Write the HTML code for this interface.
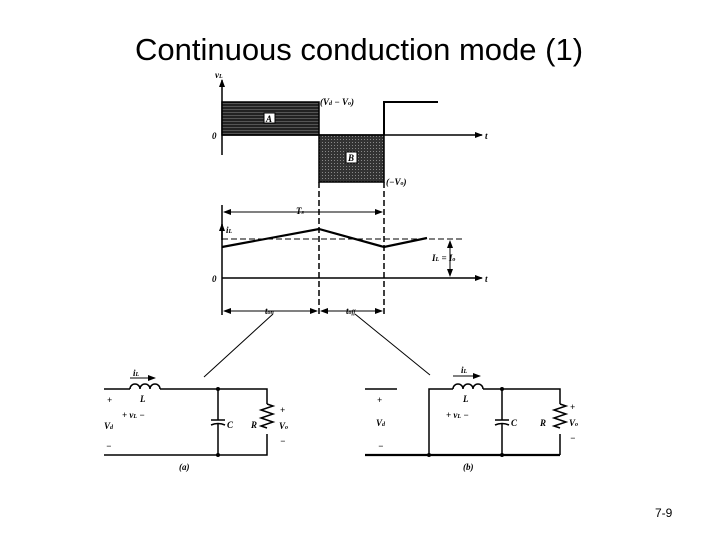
<!DOCTYPE html>
<html><head><style>
body{margin:0;width:720px;height:540px;background:#fff;overflow:hidden}
svg{display:block}
.t{font-family:"Liberation Serif",serif;font-style:italic;font-weight:bold;font-size:9px}
</style></head><body>
<svg width="720" height="540" viewBox="0 0 720 540">
<defs>
<marker id="a" markerWidth="8" markerHeight="6" refX="7" refY="3" orient="auto" markerUnits="userSpaceOnUse"><path d="M0,0 L8,3 L0,6 z" fill="#000"/></marker>
<marker id="b" markerWidth="8" markerHeight="6" refX="1" refY="3" orient="auto" markerUnits="userSpaceOnUse"><path d="M8,0 L0,3 L8,6 z" fill="#000"/></marker>
<pattern id="h" width="4" height="3" patternUnits="userSpaceOnUse"><rect width="4" height="3" fill="#222"/><rect y="1" width="4" height="1" fill="#555"/></pattern>
<pattern id="d" width="3" height="3" patternUnits="userSpaceOnUse"><rect width="3" height="3" fill="#333"/><rect x="1" y="1" width="1" height="1" fill="#888"/></pattern>
</defs>
<text x="359" y="60" text-anchor="middle" font-family="Liberation Sans,sans-serif" font-size="31">Continuous conduction mode (1)</text>
<g stroke="#000" fill="none" stroke-width="1.5">
<line x1="222" y1="155" x2="222" y2="80" marker-end="url(#a)"/>
<line x1="222" y1="135" x2="482" y2="135" marker-end="url(#a)"/>
<rect x="222" y="102" width="97" height="33" fill="url(#h)" stroke="#000"/>
<rect x="319" y="135" width="65" height="47" fill="url(#d)" stroke="#000"/>
<polyline points="384,135 384,102 438,102" stroke-width="2"/>
<line x1="222" y1="205" x2="222" y2="315"/>
<line x1="224" y1="212" x2="382" y2="212" marker-end="url(#a)" marker-start="url(#b)" stroke-width="1"/>
<line x1="319" y1="182" x2="319" y2="315" stroke-dasharray="6,3"/>
<line x1="384" y1="182" x2="384" y2="315" stroke-dasharray="6,3"/>
<line x1="222" y1="240" x2="222" y2="224" marker-end="url(#a)"/>
<line x1="222" y1="278" x2="482" y2="278" marker-end="url(#a)"/>
<polyline points="222,247 319,229 384,247 427,238" stroke-width="2.2"/>
<line x1="222" y1="239" x2="465" y2="239" stroke-dasharray="6,3" stroke-width="1"/>
<line x1="450" y1="241" x2="450" y2="276" marker-end="url(#a)" marker-start="url(#b)" stroke-width="1"/>
<line x1="224" y1="311" x2="317" y2="311" marker-end="url(#a)" marker-start="url(#b)" stroke-width="1"/>
<line x1="321" y1="311" x2="382" y2="311" marker-end="url(#a)" marker-start="url(#b)" stroke-width="1"/>
<line x1="273" y1="314" x2="204" y2="377" stroke-width="1"/>
<line x1="355" y1="314" x2="430" y2="375" stroke-width="1"/>
<polyline points="104,389 130,389"/>
<path d="M130,389 a5,5 0 0 1 10,0 a5,5 0 0 1 10,0 a5,5 0 0 1 10,0"/>
<polyline points="160,389 267,389 267,404"/>
<polyline points="267,434 267,455 104,455"/>
<path d="M267,404 l6,2 l-12,4 l12,4 l-12,4 l12,4 l-12,4 l6,2"/>
<line x1="218" y1="389" x2="218" y2="420"/><line x1="218" y1="424" x2="218" y2="455"/>
<line x1="211" y1="420" x2="225" y2="420"/><path d="M211,425 q7,-3 14,0"/>
<line x1="130" y1="378" x2="155" y2="378" marker-end="url(#a)" stroke-width="1"/>
<line x1="365" y1="389" x2="397" y2="389"/>
<polyline points="429,455 429,389 453,389"/>
<path d="M453,389 a5,5 0 0 1 10,0 a5,5 0 0 1 10,0 a5,5 0 0 1 10,0"/>
<polyline points="483,389 560,389 560,404"/>
<polyline points="560,434 560,455"/>
<line x1="365" y1="455" x2="560" y2="455" stroke-width="2.2"/>
<path d="M560,404 l6,2 l-12,4 l12,4 l-12,4 l12,4 l-12,4 l6,2"/>
<line x1="502" y1="389" x2="502" y2="420"/><line x1="502" y1="424" x2="502" y2="455"/>
<line x1="495" y1="420" x2="509" y2="420"/><path d="M495,425 q7,-3 14,0"/>
<line x1="453" y1="376" x2="480" y2="376" marker-end="url(#a)" stroke-width="1"/>
</g>
<g fill="#000">
<circle cx="218" cy="389" r="2"/><circle cx="218" cy="455" r="2"/>
<circle cx="429" cy="455" r="2"/><circle cx="502" cy="389" r="2"/><circle cx="502" cy="455" r="2"/>
</g>
<rect x="264" y="113" width="11" height="10" fill="#fff" stroke="#000"/>
<rect x="346" y="152" width="11" height="11" fill="#fff" stroke="#000"/>
<g class="t">
<text x="215" y="78">v<tspan font-size="6">L</tspan></text>
<text x="266" y="122">A</text>
<text x="348" y="161">B</text>
<text x="320" y="105">(V<tspan font-size="6">d</tspan> − V<tspan font-size="6">o</tspan>)</text>
<text x="386" y="185">(−V<tspan font-size="6">o</tspan>)</text>
<text x="212" y="139">0</text><text x="485" y="139">t</text>
<text x="296" y="214">T<tspan font-size="6">s</tspan></text>
<text x="226" y="233">i<tspan font-size="6">L</tspan></text>
<text x="212" y="282">0</text><text x="485" y="282">t</text>
<text x="432" y="261">I<tspan font-size="6">L</tspan> = I<tspan font-size="6">o</tspan></text>
<text x="265" y="314">t<tspan font-size="6">on</tspan></text>
<text x="346" y="314">t<tspan font-size="6">off</tspan></text>
<text x="133" y="376">i<tspan font-size="6">L</tspan></text>
<text x="140" y="402">L</text>
<text x="107" y="403">+</text><text x="122" y="418">+ v<tspan font-size="6">L</tspan> −</text>
<text x="104" y="429">V<tspan font-size="6">d</tspan></text><text x="106" y="449">−</text>
<text x="227" y="428">C</text><text x="251" y="428">R</text>
<text x="280" y="413">+</text><text x="279" y="429">V<tspan font-size="6">o</tspan></text><text x="280" y="444">−</text>
<text x="179" y="470">(a)</text>
<text x="461" y="373">i<tspan font-size="6">L</tspan></text>
<text x="463" y="402">L</text>
<text x="377" y="403">+</text><text x="376" y="426">V<tspan font-size="6">d</tspan></text><text x="378" y="449">−</text>
<text x="446" y="418">+ v<tspan font-size="6">L</tspan> −</text>
<text x="511" y="426">C</text><text x="540" y="426">R</text>
<text x="570" y="410">+</text><text x="569" y="426">V<tspan font-size="6">o</tspan></text><text x="570" y="441">−</text>
<text x="463" y="470">(b)</text>
</g>
<text x="655" y="517" font-family="Liberation Sans,sans-serif" font-size="12">7-9</text>
</svg>
</body></html>
